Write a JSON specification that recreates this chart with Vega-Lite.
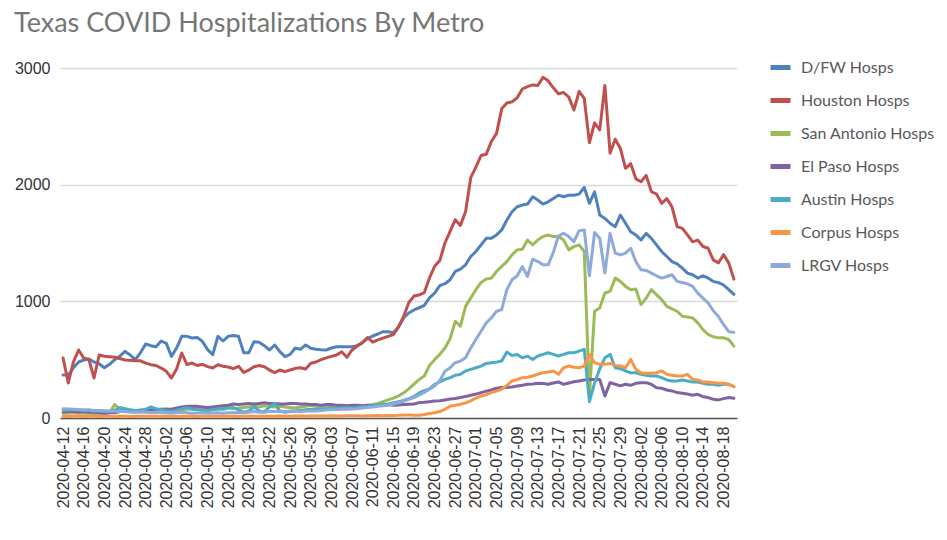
{
"$schema":"https://vega.github.io/schema/vega-lite/v6.json",
"autosize":{"type":"none"},
"width":677,"height":350,
"padding":{"left":60,"top":68,"right":210,"bottom":122},
"background":"white",
"title":{"text":"Texas COVID Hospitalizations By Metro","anchor":"start","frame":"group","font":"Lato","fontSize":27,"fontWeight":"normal","color":"#767676","dx":-46,"offset":17},
"data":{"values":[
{"date":"2020-04-12","D/FW Hosps":368,"Houston Hosps":514,"San Antonio Hosps":40,"El Paso Hosps":50,"Austin Hosps":65,"Corpus Hosps":15,"LRGV Hosps":80},
{"date":"2020-04-13","D/FW Hosps":370,"Houston Hosps":300,"San Antonio Hosps":40,"El Paso Hosps":55,"Austin Hosps":70,"Corpus Hosps":12,"LRGV Hosps":78},
{"date":"2020-04-14","D/FW Hosps":430,"Houston Hosps":480,"San Antonio Hosps":45,"El Paso Hosps":55,"Austin Hosps":72,"Corpus Hosps":15,"LRGV Hosps":75},
{"date":"2020-04-15","D/FW Hosps":480,"Houston Hosps":583,"San Antonio Hosps":42,"El Paso Hosps":50,"Austin Hosps":70,"Corpus Hosps":18,"LRGV Hosps":72},
{"date":"2020-04-16","D/FW Hosps":497,"Houston Hosps":514,"San Antonio Hosps":40,"El Paso Hosps":55,"Austin Hosps":65,"Corpus Hosps":12,"LRGV Hosps":70},
{"date":"2020-04-17","D/FW Hosps":506,"Houston Hosps":500,"San Antonio Hosps":40,"El Paso Hosps":50,"Austin Hosps":68,"Corpus Hosps":15,"LRGV Hosps":68},
{"date":"2020-04-18","D/FW Hosps":480,"Houston Hosps":343,"San Antonio Hosps":38,"El Paso Hosps":50,"Austin Hosps":60,"Corpus Hosps":14,"LRGV Hosps":65},
{"date":"2020-04-19","D/FW Hosps":465,"Houston Hosps":540,"San Antonio Hosps":40,"El Paso Hosps":45,"Austin Hosps":62,"Corpus Hosps":12,"LRGV Hosps":65},
{"date":"2020-04-20","D/FW Hosps":430,"Houston Hosps":530,"San Antonio Hosps":40,"El Paso Hosps":40,"Austin Hosps":60,"Corpus Hosps":15,"LRGV Hosps":60},
{"date":"2020-04-21","D/FW Hosps":460,"Houston Hosps":525,"San Antonio Hosps":45,"El Paso Hosps":45,"Austin Hosps":55,"Corpus Hosps":16,"LRGV Hosps":60},
{"date":"2020-04-22","D/FW Hosps":500,"Houston Hosps":520,"San Antonio Hosps":115,"El Paso Hosps":45,"Austin Hosps":65,"Corpus Hosps":12,"LRGV Hosps":58},
{"date":"2020-04-23","D/FW Hosps":530,"Houston Hosps":510,"San Antonio Hosps":75,"El Paso Hosps":55,"Austin Hosps":90,"Corpus Hosps":15,"LRGV Hosps":55},
{"date":"2020-04-24","D/FW Hosps":571,"Houston Hosps":497,"San Antonio Hosps":70,"El Paso Hosps":60,"Austin Hosps":80,"Corpus Hosps":14,"LRGV Hosps":55},
{"date":"2020-04-25","D/FW Hosps":540,"Houston Hosps":495,"San Antonio Hosps":65,"El Paso Hosps":65,"Austin Hosps":70,"Corpus Hosps":12,"LRGV Hosps":50},
{"date":"2020-04-26","D/FW Hosps":500,"Houston Hosps":490,"San Antonio Hosps":60,"El Paso Hosps":60,"Austin Hosps":65,"Corpus Hosps":15,"LRGV Hosps":50},
{"date":"2020-04-27","D/FW Hosps":560,"Houston Hosps":490,"San Antonio Hosps":70,"El Paso Hosps":65,"Austin Hosps":60,"Corpus Hosps":14,"LRGV Hosps":52},
{"date":"2020-04-28","D/FW Hosps":634,"Houston Hosps":470,"San Antonio Hosps":65,"El Paso Hosps":70,"Austin Hosps":75,"Corpus Hosps":15,"LRGV Hosps":50},
{"date":"2020-04-29","D/FW Hosps":620,"Houston Hosps":457,"San Antonio Hosps":60,"El Paso Hosps":70,"Austin Hosps":95,"Corpus Hosps":16,"LRGV Hosps":48},
{"date":"2020-04-30","D/FW Hosps":610,"Houston Hosps":450,"San Antonio Hosps":70,"El Paso Hosps":70,"Austin Hosps":80,"Corpus Hosps":15,"LRGV Hosps":50},
{"date":"2020-05-01","D/FW Hosps":660,"Houston Hosps":428,"San Antonio Hosps":75,"El Paso Hosps":75,"Austin Hosps":70,"Corpus Hosps":12,"LRGV Hosps":45},
{"date":"2020-05-02","D/FW Hosps":640,"Houston Hosps":400,"San Antonio Hosps":80,"El Paso Hosps":70,"Austin Hosps":60,"Corpus Hosps":14,"LRGV Hosps":45},
{"date":"2020-05-03","D/FW Hosps":528,"Houston Hosps":343,"San Antonio Hosps":75,"El Paso Hosps":75,"Austin Hosps":55,"Corpus Hosps":15,"LRGV Hosps":40},
{"date":"2020-05-04","D/FW Hosps":600,"Houston Hosps":420,"San Antonio Hosps":70,"El Paso Hosps":85,"Austin Hosps":65,"Corpus Hosps":13,"LRGV Hosps":45},
{"date":"2020-05-05","D/FW Hosps":700,"Houston Hosps":557,"San Antonio Hosps":70,"El Paso Hosps":95,"Austin Hosps":80,"Corpus Hosps":15,"LRGV Hosps":50},
{"date":"2020-05-06","D/FW Hosps":700,"Houston Hosps":457,"San Antonio Hosps":75,"El Paso Hosps":100,"Austin Hosps":90,"Corpus Hosps":16,"LRGV Hosps":45},
{"date":"2020-05-07","D/FW Hosps":686,"Houston Hosps":471,"San Antonio Hosps":80,"El Paso Hosps":100,"Austin Hosps":75,"Corpus Hosps":14,"LRGV Hosps":40},
{"date":"2020-05-08","D/FW Hosps":690,"Houston Hosps":450,"San Antonio Hosps":85,"El Paso Hosps":100,"Austin Hosps":70,"Corpus Hosps":12,"LRGV Hosps":42},
{"date":"2020-05-09","D/FW Hosps":657,"Houston Hosps":460,"San Antonio Hosps":80,"El Paso Hosps":95,"Austin Hosps":65,"Corpus Hosps":15,"LRGV Hosps":45},
{"date":"2020-05-10","D/FW Hosps":586,"Houston Hosps":440,"San Antonio Hosps":70,"El Paso Hosps":90,"Austin Hosps":60,"Corpus Hosps":14,"LRGV Hosps":40},
{"date":"2020-05-11","D/FW Hosps":543,"Houston Hosps":428,"San Antonio Hosps":80,"El Paso Hosps":95,"Austin Hosps":70,"Corpus Hosps":15,"LRGV Hosps":42},
{"date":"2020-05-12","D/FW Hosps":700,"Houston Hosps":457,"San Antonio Hosps":75,"El Paso Hosps":100,"Austin Hosps":80,"Corpus Hosps":16,"LRGV Hosps":45},
{"date":"2020-05-13","D/FW Hosps":660,"Houston Hosps":443,"San Antonio Hosps":85,"El Paso Hosps":105,"Austin Hosps":75,"Corpus Hosps":15,"LRGV Hosps":40},
{"date":"2020-05-14","D/FW Hosps":700,"Houston Hosps":437,"San Antonio Hosps":90,"El Paso Hosps":110,"Austin Hosps":85,"Corpus Hosps":14,"LRGV Hosps":45},
{"date":"2020-05-15","D/FW Hosps":708,"Houston Hosps":423,"San Antonio Hosps":80,"El Paso Hosps":120,"Austin Hosps":90,"Corpus Hosps":15,"LRGV Hosps":45},
{"date":"2020-05-16","D/FW Hosps":700,"Houston Hosps":443,"San Antonio Hosps":85,"El Paso Hosps":115,"Austin Hosps":70,"Corpus Hosps":13,"LRGV Hosps":48},
{"date":"2020-05-17","D/FW Hosps":560,"Houston Hosps":390,"San Antonio Hosps":90,"El Paso Hosps":120,"Austin Hosps":50,"Corpus Hosps":15,"LRGV Hosps":45},
{"date":"2020-05-18","D/FW Hosps":560,"Houston Hosps":411,"San Antonio Hosps":95,"El Paso Hosps":125,"Austin Hosps":60,"Corpus Hosps":16,"LRGV Hosps":50},
{"date":"2020-05-19","D/FW Hosps":654,"Houston Hosps":440,"San Antonio Hosps":100,"El Paso Hosps":120,"Austin Hosps":95,"Corpus Hosps":15,"LRGV Hosps":55},
{"date":"2020-05-20","D/FW Hosps":650,"Houston Hosps":450,"San Antonio Hosps":95,"El Paso Hosps":125,"Austin Hosps":60,"Corpus Hosps":14,"LRGV Hosps":50},
{"date":"2020-05-21","D/FW Hosps":620,"Houston Hosps":440,"San Antonio Hosps":105,"El Paso Hosps":130,"Austin Hosps":50,"Corpus Hosps":15,"LRGV Hosps":52},
{"date":"2020-05-22","D/FW Hosps":583,"Houston Hosps":411,"San Antonio Hosps":100,"El Paso Hosps":125,"Austin Hosps":95,"Corpus Hosps":16,"LRGV Hosps":55},
{"date":"2020-05-23","D/FW Hosps":626,"Houston Hosps":389,"San Antonio Hosps":95,"El Paso Hosps":125,"Austin Hosps":125,"Corpus Hosps":15,"LRGV Hosps":55},
{"date":"2020-05-24","D/FW Hosps":569,"Houston Hosps":411,"San Antonio Hosps":100,"El Paso Hosps":120,"Austin Hosps":60,"Corpus Hosps":17,"LRGV Hosps":58},
{"date":"2020-05-25","D/FW Hosps":526,"Houston Hosps":397,"San Antonio Hosps":95,"El Paso Hosps":120,"Austin Hosps":50,"Corpus Hosps":16,"LRGV Hosps":55},
{"date":"2020-05-26","D/FW Hosps":545,"Houston Hosps":411,"San Antonio Hosps":90,"El Paso Hosps":125,"Austin Hosps":55,"Corpus Hosps":15,"LRGV Hosps":60},
{"date":"2020-05-27","D/FW Hosps":600,"Houston Hosps":426,"San Antonio Hosps":85,"El Paso Hosps":125,"Austin Hosps":60,"Corpus Hosps":17,"LRGV Hosps":58},
{"date":"2020-05-28","D/FW Hosps":589,"Houston Hosps":430,"San Antonio Hosps":95,"El Paso Hosps":120,"Austin Hosps":65,"Corpus Hosps":18,"LRGV Hosps":55},
{"date":"2020-05-29","D/FW Hosps":626,"Houston Hosps":420,"San Antonio Hosps":100,"El Paso Hosps":120,"Austin Hosps":70,"Corpus Hosps":16,"LRGV Hosps":60},
{"date":"2020-05-30","D/FW Hosps":597,"Houston Hosps":470,"San Antonio Hosps":110,"El Paso Hosps":115,"Austin Hosps":75,"Corpus Hosps":17,"LRGV Hosps":62},
{"date":"2020-05-31","D/FW Hosps":590,"Houston Hosps":480,"San Antonio Hosps":105,"El Paso Hosps":115,"Austin Hosps":80,"Corpus Hosps":18,"LRGV Hosps":60},
{"date":"2020-06-01","D/FW Hosps":585,"Houston Hosps":500,"San Antonio Hosps":95,"El Paso Hosps":110,"Austin Hosps":75,"Corpus Hosps":17,"LRGV Hosps":65},
{"date":"2020-06-02","D/FW Hosps":583,"Houston Hosps":515,"San Antonio Hosps":100,"El Paso Hosps":115,"Austin Hosps":80,"Corpus Hosps":18,"LRGV Hosps":68},
{"date":"2020-06-03","D/FW Hosps":600,"Houston Hosps":528,"San Antonio Hosps":95,"El Paso Hosps":115,"Austin Hosps":85,"Corpus Hosps":19,"LRGV Hosps":70},
{"date":"2020-06-04","D/FW Hosps":611,"Houston Hosps":540,"San Antonio Hosps":100,"El Paso Hosps":110,"Austin Hosps":80,"Corpus Hosps":18,"LRGV Hosps":72},
{"date":"2020-06-05","D/FW Hosps":611,"Houston Hosps":568,"San Antonio Hosps":100,"El Paso Hosps":110,"Austin Hosps":85,"Corpus Hosps":17,"LRGV Hosps":75},
{"date":"2020-06-06","D/FW Hosps":611,"Houston Hosps":520,"San Antonio Hosps":95,"El Paso Hosps":105,"Austin Hosps":90,"Corpus Hosps":19,"LRGV Hosps":75},
{"date":"2020-06-07","D/FW Hosps":611,"Houston Hosps":583,"San Antonio Hosps":100,"El Paso Hosps":110,"Austin Hosps":85,"Corpus Hosps":20,"LRGV Hosps":78},
{"date":"2020-06-08","D/FW Hosps":620,"Houston Hosps":617,"San Antonio Hosps":100,"El Paso Hosps":110,"Austin Hosps":90,"Corpus Hosps":19,"LRGV Hosps":80},
{"date":"2020-06-09","D/FW Hosps":646,"Houston Hosps":646,"San Antonio Hosps":105,"El Paso Hosps":105,"Austin Hosps":95,"Corpus Hosps":18,"LRGV Hosps":85},
{"date":"2020-06-10","D/FW Hosps":680,"Houston Hosps":690,"San Antonio Hosps":110,"El Paso Hosps":110,"Austin Hosps":100,"Corpus Hosps":20,"LRGV Hosps":90},
{"date":"2020-06-11","D/FW Hosps":703,"Houston Hosps":650,"San Antonio Hosps":115,"El Paso Hosps":105,"Austin Hosps":105,"Corpus Hosps":20,"LRGV Hosps":95},
{"date":"2020-06-12","D/FW Hosps":720,"Houston Hosps":670,"San Antonio Hosps":125,"El Paso Hosps":110,"Austin Hosps":110,"Corpus Hosps":21,"LRGV Hosps":100},
{"date":"2020-06-13","D/FW Hosps":740,"Houston Hosps":685,"San Antonio Hosps":140,"El Paso Hosps":110,"Austin Hosps":115,"Corpus Hosps":20,"LRGV Hosps":105},
{"date":"2020-06-14","D/FW Hosps":740,"Houston Hosps":700,"San Antonio Hosps":155,"El Paso Hosps":115,"Austin Hosps":120,"Corpus Hosps":22,"LRGV Hosps":110},
{"date":"2020-06-15","D/FW Hosps":731,"Houston Hosps":715,"San Antonio Hosps":170,"El Paso Hosps":110,"Austin Hosps":130,"Corpus Hosps":22,"LRGV Hosps":120},
{"date":"2020-06-16","D/FW Hosps":780,"Houston Hosps":780,"San Antonio Hosps":190,"El Paso Hosps":112,"Austin Hosps":140,"Corpus Hosps":23,"LRGV Hosps":130},
{"date":"2020-06-17","D/FW Hosps":860,"Houston Hosps":870,"San Antonio Hosps":215,"El Paso Hosps":115,"Austin Hosps":150,"Corpus Hosps":25,"LRGV Hosps":145},
{"date":"2020-06-18","D/FW Hosps":900,"Houston Hosps":990,"San Antonio Hosps":250,"El Paso Hosps":118,"Austin Hosps":165,"Corpus Hosps":25,"LRGV Hosps":160},
{"date":"2020-06-19","D/FW Hosps":926,"Houston Hosps":1045,"San Antonio Hosps":290,"El Paso Hosps":120,"Austin Hosps":185,"Corpus Hosps":24,"LRGV Hosps":175},
{"date":"2020-06-20","D/FW Hosps":945,"Houston Hosps":1055,"San Antonio Hosps":330,"El Paso Hosps":132,"Austin Hosps":215,"Corpus Hosps":24,"LRGV Hosps":195},
{"date":"2020-06-21","D/FW Hosps":965,"Houston Hosps":1075,"San Antonio Hosps":360,"El Paso Hosps":135,"Austin Hosps":235,"Corpus Hosps":30,"LRGV Hosps":220},
{"date":"2020-06-22","D/FW Hosps":1030,"Houston Hosps":1200,"San Antonio Hosps":450,"El Paso Hosps":140,"Austin Hosps":250,"Corpus Hosps":38,"LRGV Hosps":246},
{"date":"2020-06-23","D/FW Hosps":1071,"Houston Hosps":1300,"San Antonio Hosps":500,"El Paso Hosps":145,"Austin Hosps":289,"Corpus Hosps":45,"LRGV Hosps":275},
{"date":"2020-06-24","D/FW Hosps":1134,"Houston Hosps":1350,"San Antonio Hosps":545,"El Paso Hosps":147,"Austin Hosps":309,"Corpus Hosps":55,"LRGV Hosps":320},
{"date":"2020-06-25","D/FW Hosps":1151,"Houston Hosps":1500,"San Antonio Hosps":600,"El Paso Hosps":155,"Austin Hosps":331,"Corpus Hosps":75,"LRGV Hosps":400},
{"date":"2020-06-26","D/FW Hosps":1185,"Houston Hosps":1600,"San Antonio Hosps":680,"El Paso Hosps":162,"Austin Hosps":346,"Corpus Hosps":100,"LRGV Hosps":431},
{"date":"2020-06-27","D/FW Hosps":1256,"Houston Hosps":1700,"San Antonio Hosps":829,"El Paso Hosps":168,"Austin Hosps":366,"Corpus Hosps":110,"LRGV Hosps":474},
{"date":"2020-06-28","D/FW Hosps":1276,"Houston Hosps":1650,"San Antonio Hosps":787,"El Paso Hosps":175,"Austin Hosps":374,"Corpus Hosps":118,"LRGV Hosps":488},
{"date":"2020-06-29","D/FW Hosps":1313,"Houston Hosps":1770,"San Antonio Hosps":957,"El Paso Hosps":185,"Austin Hosps":403,"Corpus Hosps":130,"LRGV Hosps":516},
{"date":"2020-06-30","D/FW Hosps":1384,"Houston Hosps":2060,"San Antonio Hosps":1028,"El Paso Hosps":195,"Austin Hosps":417,"Corpus Hosps":147,"LRGV Hosps":600},
{"date":"2020-07-01","D/FW Hosps":1427,"Houston Hosps":2150,"San Antonio Hosps":1100,"El Paso Hosps":205,"Austin Hosps":431,"Corpus Hosps":170,"LRGV Hosps":673},
{"date":"2020-07-02","D/FW Hosps":1484,"Houston Hosps":2250,"San Antonio Hosps":1162,"El Paso Hosps":218,"Austin Hosps":445,"Corpus Hosps":189,"LRGV Hosps":744},
{"date":"2020-07-03","D/FW Hosps":1540,"Houston Hosps":2260,"San Antonio Hosps":1191,"El Paso Hosps":230,"Austin Hosps":468,"Corpus Hosps":200,"LRGV Hosps":815},
{"date":"2020-07-04","D/FW Hosps":1540,"Houston Hosps":2370,"San Antonio Hosps":1199,"El Paso Hosps":240,"Austin Hosps":474,"Corpus Hosps":218,"LRGV Hosps":858},
{"date":"2020-07-05","D/FW Hosps":1569,"Houston Hosps":2440,"San Antonio Hosps":1256,"El Paso Hosps":255,"Austin Hosps":479,"Corpus Hosps":230,"LRGV Hosps":915},
{"date":"2020-07-06","D/FW Hosps":1612,"Houston Hosps":2650,"San Antonio Hosps":1299,"El Paso Hosps":262,"Austin Hosps":488,"Corpus Hosps":246,"LRGV Hosps":929},
{"date":"2020-07-07","D/FW Hosps":1697,"Houston Hosps":2700,"San Antonio Hosps":1341,"El Paso Hosps":262,"Austin Hosps":565,"Corpus Hosps":280,"LRGV Hosps":1100},
{"date":"2020-07-08","D/FW Hosps":1768,"Houston Hosps":2710,"San Antonio Hosps":1398,"El Paso Hosps":265,"Austin Hosps":536,"Corpus Hosps":317,"LRGV Hosps":1185},
{"date":"2020-07-09","D/FW Hosps":1811,"Houston Hosps":2745,"San Antonio Hosps":1441,"El Paso Hosps":275,"Austin Hosps":545,"Corpus Hosps":330,"LRGV Hosps":1219},
{"date":"2020-07-10","D/FW Hosps":1825,"Houston Hosps":2820,"San Antonio Hosps":1447,"El Paso Hosps":280,"Austin Hosps":516,"Corpus Hosps":346,"LRGV Hosps":1299},
{"date":"2020-07-11","D/FW Hosps":1834,"Houston Hosps":2840,"San Antonio Hosps":1526,"El Paso Hosps":289,"Austin Hosps":531,"Corpus Hosps":350,"LRGV Hosps":1213},
{"date":"2020-07-12","D/FW Hosps":1896,"Houston Hosps":2855,"San Antonio Hosps":1484,"El Paso Hosps":292,"Austin Hosps":502,"Corpus Hosps":360,"LRGV Hosps":1361},
{"date":"2020-07-13","D/FW Hosps":1868,"Houston Hosps":2850,"San Antonio Hosps":1526,"El Paso Hosps":297,"Austin Hosps":531,"Corpus Hosps":375,"LRGV Hosps":1341},
{"date":"2020-07-14","D/FW Hosps":1834,"Houston Hosps":2920,"San Antonio Hosps":1555,"El Paso Hosps":295,"Austin Hosps":545,"Corpus Hosps":388,"LRGV Hosps":1313},
{"date":"2020-07-15","D/FW Hosps":1853,"Houston Hosps":2890,"San Antonio Hosps":1569,"El Paso Hosps":289,"Austin Hosps":559,"Corpus Hosps":395,"LRGV Hosps":1313},
{"date":"2020-07-16","D/FW Hosps":1882,"Houston Hosps":2830,"San Antonio Hosps":1555,"El Paso Hosps":300,"Austin Hosps":545,"Corpus Hosps":403,"LRGV Hosps":1420},
{"date":"2020-07-17","D/FW Hosps":1910,"Houston Hosps":2780,"San Antonio Hosps":1555,"El Paso Hosps":309,"Austin Hosps":531,"Corpus Hosps":374,"LRGV Hosps":1560},
{"date":"2020-07-18","D/FW Hosps":1896,"Houston Hosps":2790,"San Antonio Hosps":1526,"El Paso Hosps":289,"Austin Hosps":545,"Corpus Hosps":431,"LRGV Hosps":1583},
{"date":"2020-07-19","D/FW Hosps":1910,"Houston Hosps":2750,"San Antonio Hosps":1441,"El Paso Hosps":300,"Austin Hosps":559,"Corpus Hosps":445,"LRGV Hosps":1555},
{"date":"2020-07-20","D/FW Hosps":1910,"Houston Hosps":2640,"San Antonio Hosps":1469,"El Paso Hosps":310,"Austin Hosps":559,"Corpus Hosps":435,"LRGV Hosps":1512},
{"date":"2020-07-21","D/FW Hosps":1919,"Houston Hosps":2800,"San Antonio Hosps":1484,"El Paso Hosps":318,"Austin Hosps":573,"Corpus Hosps":431,"LRGV Hosps":1606},
{"date":"2020-07-22","D/FW Hosps":1976,"Houston Hosps":2740,"San Antonio Hosps":1427,"El Paso Hosps":326,"Austin Hosps":588,"Corpus Hosps":445,"LRGV Hosps":1612},
{"date":"2020-07-23","D/FW Hosps":1840,"Houston Hosps":2360,"San Antonio Hosps":189,"El Paso Hosps":331,"Austin Hosps":140,"Corpus Hosps":545,"LRGV Hosps":1220},
{"date":"2020-07-24","D/FW Hosps":1939,"Houston Hosps":2530,"San Antonio Hosps":915,"El Paso Hosps":330,"Austin Hosps":300,"Corpus Hosps":474,"LRGV Hosps":1590},
{"date":"2020-07-25","D/FW Hosps":1740,"Houston Hosps":2470,"San Antonio Hosps":943,"El Paso Hosps":331,"Austin Hosps":420,"Corpus Hosps":460,"LRGV Hosps":1540},
{"date":"2020-07-26","D/FW Hosps":1711,"Houston Hosps":2850,"San Antonio Hosps":1071,"El Paso Hosps":189,"Austin Hosps":516,"Corpus Hosps":460,"LRGV Hosps":1242},
{"date":"2020-07-27","D/FW Hosps":1669,"Houston Hosps":2270,"San Antonio Hosps":1085,"El Paso Hosps":303,"Austin Hosps":545,"Corpus Hosps":468,"LRGV Hosps":1583},
{"date":"2020-07-28","D/FW Hosps":1640,"Houston Hosps":2390,"San Antonio Hosps":1199,"El Paso Hosps":289,"Austin Hosps":431,"Corpus Hosps":451,"LRGV Hosps":1413},
{"date":"2020-07-29","D/FW Hosps":1740,"Houston Hosps":2310,"San Antonio Hosps":1171,"El Paso Hosps":275,"Austin Hosps":423,"Corpus Hosps":445,"LRGV Hosps":1398},
{"date":"2020-07-30","D/FW Hosps":1669,"Houston Hosps":2140,"San Antonio Hosps":1128,"El Paso Hosps":289,"Austin Hosps":403,"Corpus Hosps":431,"LRGV Hosps":1413},
{"date":"2020-07-31","D/FW Hosps":1597,"Houston Hosps":2180,"San Antonio Hosps":1100,"El Paso Hosps":280,"Austin Hosps":388,"Corpus Hosps":502,"LRGV Hosps":1455},
{"date":"2020-08-01","D/FW Hosps":1569,"Houston Hosps":2050,"San Antonio Hosps":1105,"El Paso Hosps":297,"Austin Hosps":388,"Corpus Hosps":417,"LRGV Hosps":1341},
{"date":"2020-08-02","D/FW Hosps":1526,"Houston Hosps":2025,"San Antonio Hosps":972,"El Paso Hosps":303,"Austin Hosps":374,"Corpus Hosps":388,"LRGV Hosps":1270},
{"date":"2020-08-03","D/FW Hosps":1583,"Houston Hosps":2080,"San Antonio Hosps":1028,"El Paso Hosps":303,"Austin Hosps":366,"Corpus Hosps":383,"LRGV Hosps":1265},
{"date":"2020-08-04","D/FW Hosps":1540,"Houston Hosps":1940,"San Antonio Hosps":1100,"El Paso Hosps":289,"Austin Hosps":360,"Corpus Hosps":383,"LRGV Hosps":1242},
{"date":"2020-08-05","D/FW Hosps":1484,"Houston Hosps":1920,"San Antonio Hosps":1057,"El Paso Hosps":260,"Austin Hosps":360,"Corpus Hosps":388,"LRGV Hosps":1219},
{"date":"2020-08-06","D/FW Hosps":1427,"Houston Hosps":1840,"San Antonio Hosps":1014,"El Paso Hosps":255,"Austin Hosps":346,"Corpus Hosps":403,"LRGV Hosps":1199},
{"date":"2020-08-07","D/FW Hosps":1384,"Houston Hosps":1880,"San Antonio Hosps":957,"El Paso Hosps":240,"Austin Hosps":326,"Corpus Hosps":374,"LRGV Hosps":1213},
{"date":"2020-08-08","D/FW Hosps":1341,"Houston Hosps":1810,"San Antonio Hosps":935,"El Paso Hosps":232,"Austin Hosps":317,"Corpus Hosps":366,"LRGV Hosps":1228},
{"date":"2020-08-09","D/FW Hosps":1321,"Houston Hosps":1640,"San Antonio Hosps":915,"El Paso Hosps":218,"Austin Hosps":317,"Corpus Hosps":360,"LRGV Hosps":1171},
{"date":"2020-08-10","D/FW Hosps":1285,"Houston Hosps":1625,"San Antonio Hosps":872,"El Paso Hosps":212,"Austin Hosps":326,"Corpus Hosps":360,"LRGV Hosps":1162},
{"date":"2020-08-11","D/FW Hosps":1242,"Houston Hosps":1570,"San Antonio Hosps":866,"El Paso Hosps":205,"Austin Hosps":317,"Corpus Hosps":374,"LRGV Hosps":1150},
{"date":"2020-08-12","D/FW Hosps":1228,"Houston Hosps":1510,"San Antonio Hosps":858,"El Paso Hosps":195,"Austin Hosps":309,"Corpus Hosps":331,"LRGV Hosps":1128},
{"date":"2020-08-13","D/FW Hosps":1199,"Houston Hosps":1525,"San Antonio Hosps":815,"El Paso Hosps":203,"Austin Hosps":309,"Corpus Hosps":326,"LRGV Hosps":1071},
{"date":"2020-08-14","D/FW Hosps":1219,"Houston Hosps":1470,"San Antonio Hosps":758,"El Paso Hosps":183,"Austin Hosps":297,"Corpus Hosps":309,"LRGV Hosps":1028},
{"date":"2020-08-15","D/FW Hosps":1200,"Houston Hosps":1455,"San Antonio Hosps":716,"El Paso Hosps":175,"Austin Hosps":289,"Corpus Hosps":309,"LRGV Hosps":986},
{"date":"2020-08-16","D/FW Hosps":1171,"Houston Hosps":1355,"San Antonio Hosps":696,"El Paso Hosps":161,"Austin Hosps":289,"Corpus Hosps":303,"LRGV Hosps":920},
{"date":"2020-08-17","D/FW Hosps":1160,"Houston Hosps":1330,"San Antonio Hosps":687,"El Paso Hosps":155,"Austin Hosps":280,"Corpus Hosps":297,"LRGV Hosps":870},
{"date":"2020-08-18","D/FW Hosps":1140,"Houston Hosps":1400,"San Antonio Hosps":687,"El Paso Hosps":166,"Austin Hosps":289,"Corpus Hosps":297,"LRGV Hosps":800},
{"date":"2020-08-19","D/FW Hosps":1100,"Houston Hosps":1330,"San Antonio Hosps":673,"El Paso Hosps":175,"Austin Hosps":289,"Corpus Hosps":289,"LRGV Hosps":740},
{"date":"2020-08-20","D/FW Hosps":1060,"Houston Hosps":1190,"San Antonio Hosps":616,"El Paso Hosps":169,"Austin Hosps":269,"Corpus Hosps":269,"LRGV Hosps":735}
]},
"transform":[{"fold":["D/FW Hosps","Houston Hosps","San Antonio Hosps","El Paso Hosps","Austin Hosps","Corpus Hosps","LRGV Hosps"],"as":["series","value"]}],
"mark":{"type":"line","strokeWidth":3,"strokeJoin":"round","strokeCap":"round"},
"encoding":{
"x":{"field":"date","type":"ordinal","sort":null,"scale":{"type":"point","padding":0.6},
"axis":{"values":["2020-04-12","2020-04-16","2020-04-20","2020-04-24","2020-04-28","2020-05-02","2020-05-06","2020-05-10","2020-05-14","2020-05-18","2020-05-22","2020-05-26","2020-05-30","2020-06-03","2020-06-07","2020-06-11","2020-06-15","2020-06-19","2020-06-23","2020-06-27","2020-07-01","2020-07-05","2020-07-09","2020-07-13","2020-07-17","2020-07-21","2020-07-25","2020-07-29","2020-08-02","2020-08-06","2020-08-10","2020-08-14","2020-08-18"],
"labelAngle":-90,"title":null,"labelFont":"Liberation Sans","labelFontSize":16,"labelColor":"#333333","ticks":false,"domainColor":"#595959","domainWidth":1.5,"labelPadding":8,"grid":false,"labelOverlap":false}},
"y":{"field":"value","type":"quantitative","scale":{"domain":[0,3000],"nice":false},
"axis":{"values":[0,1000,2000,3000],"format":"d","title":null,"domain":false,"ticks":false,"labelPadding":10,"gridColor":"#d9d9d9","gridWidth":1.5,"labelFont":"Liberation Sans","labelFontSize":16,"labelColor":"#333333"}},
"color":{"field":"series","type":"nominal","sort":null,
"scale":{"domain":["D/FW Hosps","Houston Hosps","San Antonio Hosps","El Paso Hosps","Austin Hosps","Corpus Hosps","LRGV Hosps"],"range":["#4F81BD","#C0504D","#9BBB59","#8064A2","#4BACC6","#F79646","#8EAADB"]},
"legend":{"title":null,"orient":"none","legendX":708,"legendY":-13,"padding":0,"symbolType":"stroke","symbolStrokeWidth":5,"symbolSize":400,"labelFont":"Lato","labelFontSize":16,"labelColor":"#595959","rowPadding":10,"labelOffset":8}}
},
"config":{"view":{"stroke":null}}
}
